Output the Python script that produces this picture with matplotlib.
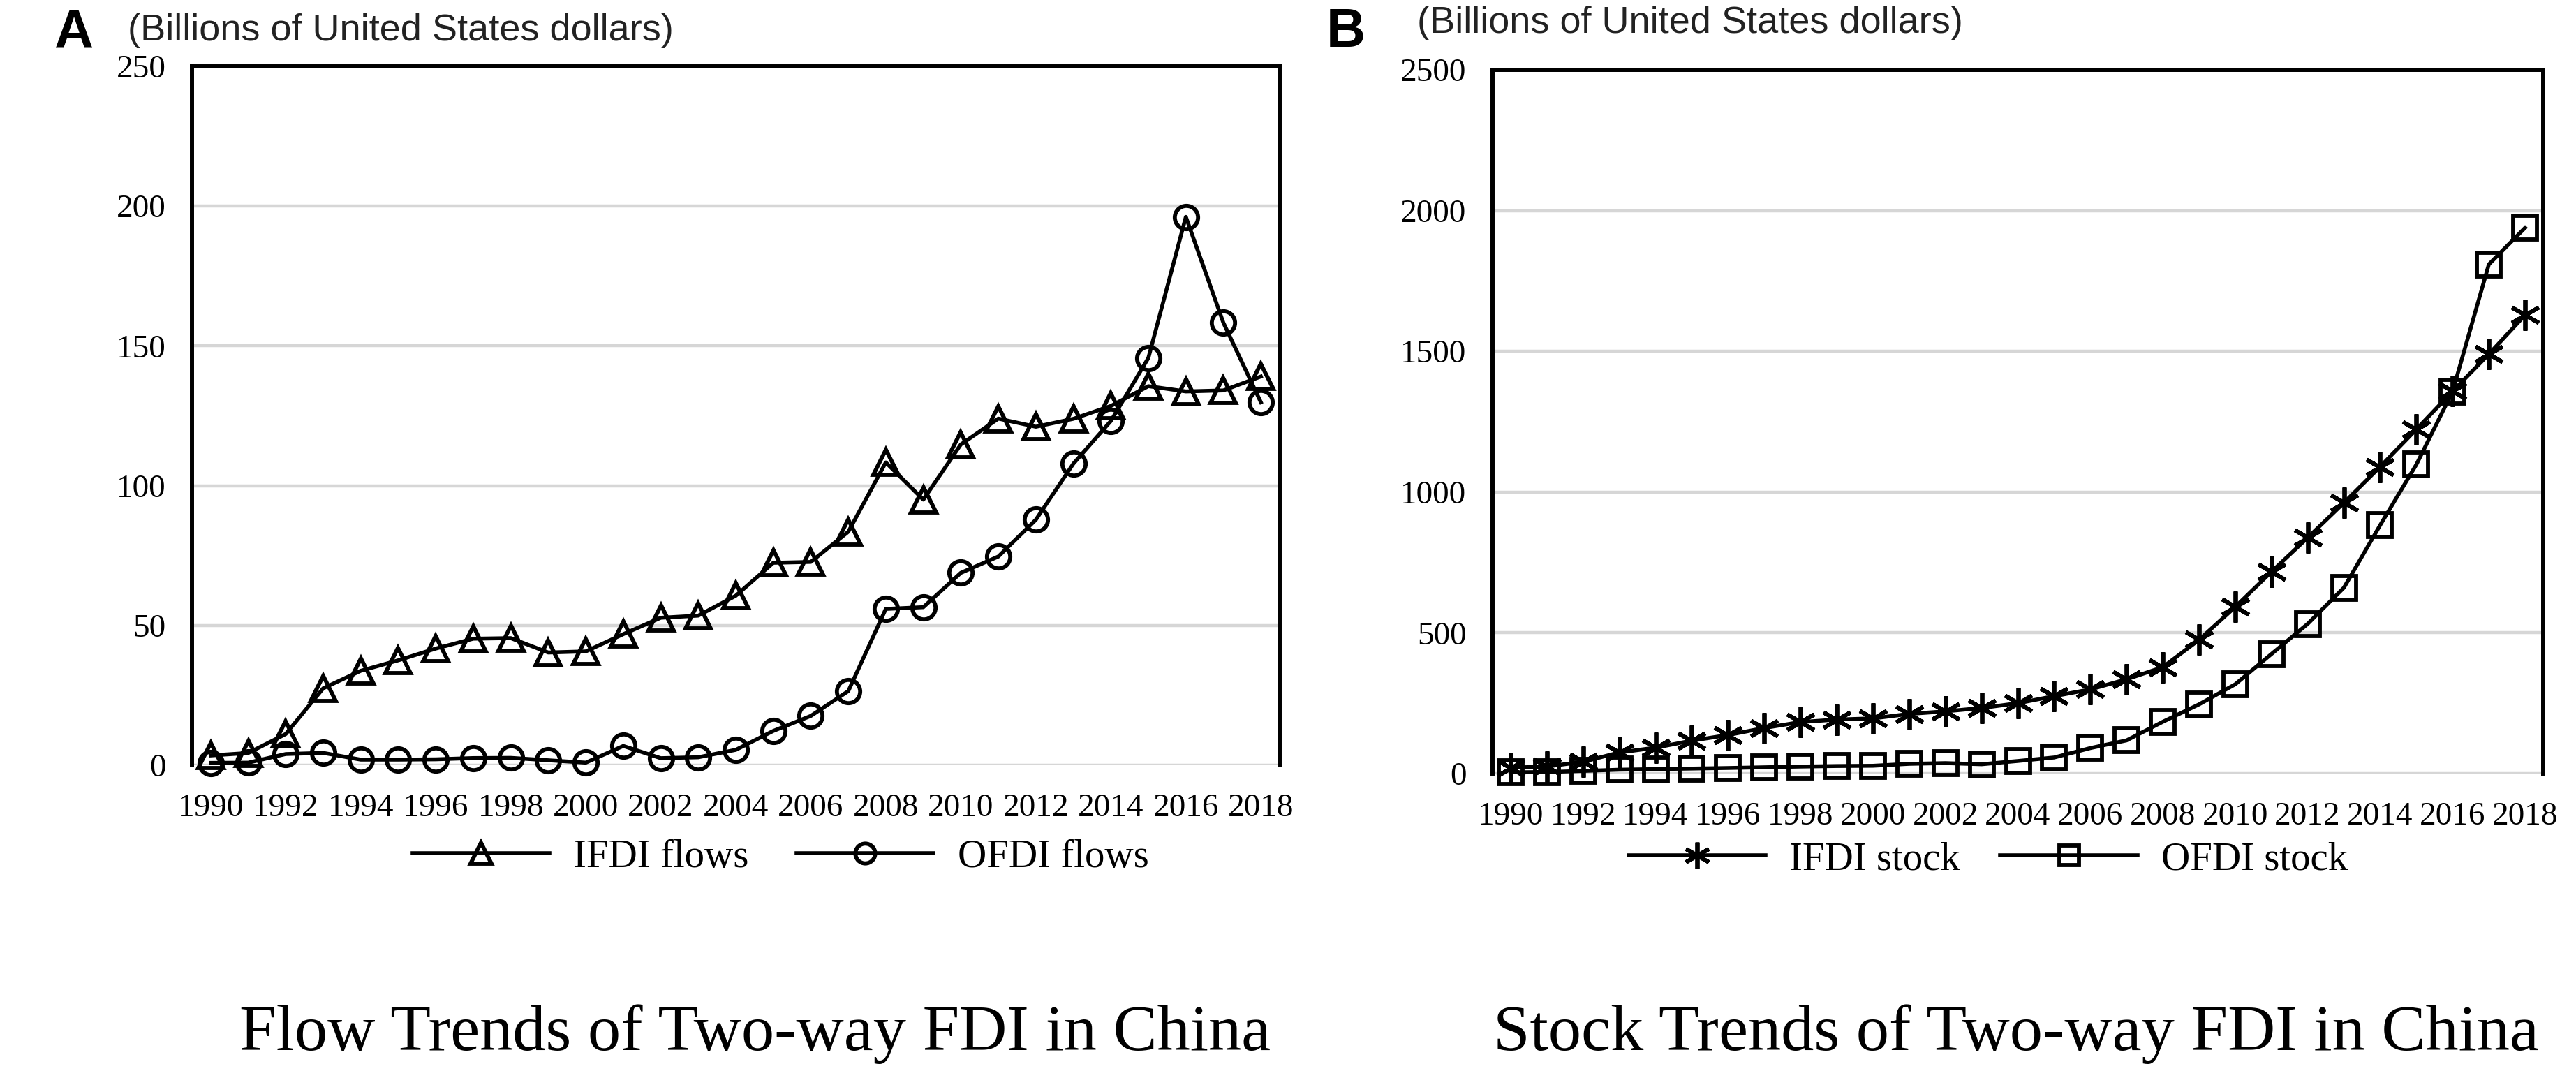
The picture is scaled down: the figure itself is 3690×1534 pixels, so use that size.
import matplotlib
matplotlib.use("Agg")
import matplotlib.pyplot as plt
import numpy as np

# ---------------- data ----------------
years = list(range(1990, 2019))
tick_years = [str(y) for y in years[::2]]

ifdi_flows = [3.49, 4.37, 11.16, 27.52, 33.77, 37.52, 41.73, 45.26, 45.46, 40.32,
              40.71, 46.88, 52.74, 53.51, 60.63, 72.41, 72.72, 83.52, 108.31, 95.0,
              114.73, 123.99, 121.08, 123.91, 128.5, 135.58, 133.71, 134.06, 139.04]
ofdi_flows = [0.83, 0.91, 4.0, 4.4, 2.0, 2.0, 2.11, 2.56, 2.63, 1.77,
              0.92, 6.88, 2.52, 2.85, 5.5, 12.26, 17.63, 26.51, 55.91, 56.53,
              68.81, 74.65, 87.8, 107.84, 123.12, 145.67, 196.15, 158.29, 129.83]

ifdi_stock = [21, 25, 42, 75, 92, 117, 137, 162, 183, 192,
              196, 212, 221, 233, 250, 275, 299, 335, 378, 475,
              592, 717, 838, 962, 1090, 1223, 1358, 1490, 1629]
ofdi_stock = [4.5, 5.4, 9.4, 13.8, 15.8, 17.8, 19.9, 22.4, 25.0, 26.9,
              27.8, 34.7, 37.2, 33.2, 44.8, 57.2, 90.6, 117.9, 184.0, 245.8,
              317.2, 424.8, 531.9, 660.5, 882.6, 1097.9, 1357.4, 1809.0, 1938.9]

labels_a = ["IFDI flows", "OFDI flows"]
labels_b = ["IFDI stock", "OFDI stock"]
yticks_a = [0, 50, 100, 150, 200, 250]
yticks_b = [0, 500, 1000, 1500, 2000, 2500]
unit_text = "(Billions of United States dollars)"
title_a = "Flow Trends of Two-way FDI in China"
title_b = "Stock Trends of Two-way FDI in China"

# ---------------- figure ----------------
W, H = 3690, 1534
DPI = 100
fig = plt.figure(figsize=(W / DPI, H / DPI), dpi=DPI)
fig.patch.set_facecolor("white")

SERIF = ["Liberation Serif", "DejaVu Serif"]
SANS = ["Liberation Sans", "DejaVu Sans"]


def px_axes(left, top, right, bottom):
    return fig.add_axes([left / W, 1 - bottom / H, (right - left) / W, (bottom - top) / H])


def style_axes(ax, yticks):
    x = np.arange(len(years))
    ax.set_xlim(-0.5, len(years) - 0.5)
    ax.set_ylim(yticks[0], yticks[-1])
    ax.set_yticks(yticks)
    ax.set_xticks(x[::2])
    ax.set_xticklabels(tick_years)
    for lab in ax.get_xticklabels() + ax.get_yticklabels():
        lab.set_family(SERIF)
        lab.set_fontsize(34)
        lab.set_color("black")
    ax.tick_params(axis="x", length=0, pad=29)
    ax.tick_params(axis="y", length=0, pad=27)
    ax.yaxis.grid(True, color="#d6d6d6", linewidth=3.2, zorder=0)
    ax.set_axisbelow(True)
    for s in ["left", "right", "top"]:
        ax.spines[s].set_linewidth(4.3)
        ax.spines[s].set_color("black")
    ax.spines["bottom"].set_visible(False)
    return x


line_kw = dict(color="black", linewidth=4.0, markeredgecolor="black",
               markerfacecolor="none", markeredgewidth=4.2, clip_on=False, zorder=3)

# ---------------- panel A ----------------
axA = px_axes(275, 95, 1833, 1096)
xA = style_axes(axA, yticks_a)
axA.plot(xA, ifdi_flows, marker="^", markersize=26, label=labels_a[0], **line_kw)
axA.plot(xA, ofdi_flows, marker="o", markersize=24, label=labels_a[1], **line_kw)
axA.legend(loc="center", bbox_to_anchor=(1118 / W, 1 - 1228 / H),
           bbox_transform=fig.transFigure, ncol=2, frameon=False,
           prop={"family": SERIF, "size": 41}, handlelength=3.45,
           handletextpad=0.6, columnspacing=1.2, borderpad=0, markerscale=0.85)

# ---------------- panel B ----------------
axB = px_axes(2138, 100, 3643, 1108)
xB = style_axes(axB, yticks_b)
axB.plot(xB, ifdi_stock, marker=(6, 2, 0), markersize=32, label=labels_b[0], **line_kw)
axB.plot(xB, ofdi_stock, marker="s", markersize=24, label=labels_b[1], **line_kw)
axB.legend(loc="center", bbox_to_anchor=(2848 / W, 1 - 1231 / H),
           bbox_transform=fig.transFigure, ncol=2, frameon=False,
           prop={"family": SERIF, "size": 41}, handlelength=3.45,
           handletextpad=0.6, columnspacing=1.0, borderpad=0, markerscale=0.85)

# ---------------- texts ----------------
fig.text(77 / W, 1 - 68 / H, "A", family=SANS, fontweight="bold", fontsize=56,
         ha="left", va="baseline")
fig.text(1900 / W, 1 - 67 / H, "B", family=SANS, fontweight="bold", fontsize=56,
         ha="left", va="baseline")
fig.text(183 / W, 1 - 58 / H, unit_text, family=SANS, fontsize=39,
         color="#222222", ha="left", va="baseline")
fig.text(2030 / W, 1 - 47 / H, unit_text, family=SANS, fontsize=39,
         color="#222222", ha="left", va="baseline")
fig.text(1082 / W, 1 - 1504 / H, title_a, family=SERIF, fontsize=68,
         ha="center", va="baseline")
fig.text(2888 / W, 1 - 1504 / H, title_b, family=SERIF, fontsize=68,
         ha="center", va="baseline")

fig.savefig("out.png", dpi=DPI, facecolor="white")
